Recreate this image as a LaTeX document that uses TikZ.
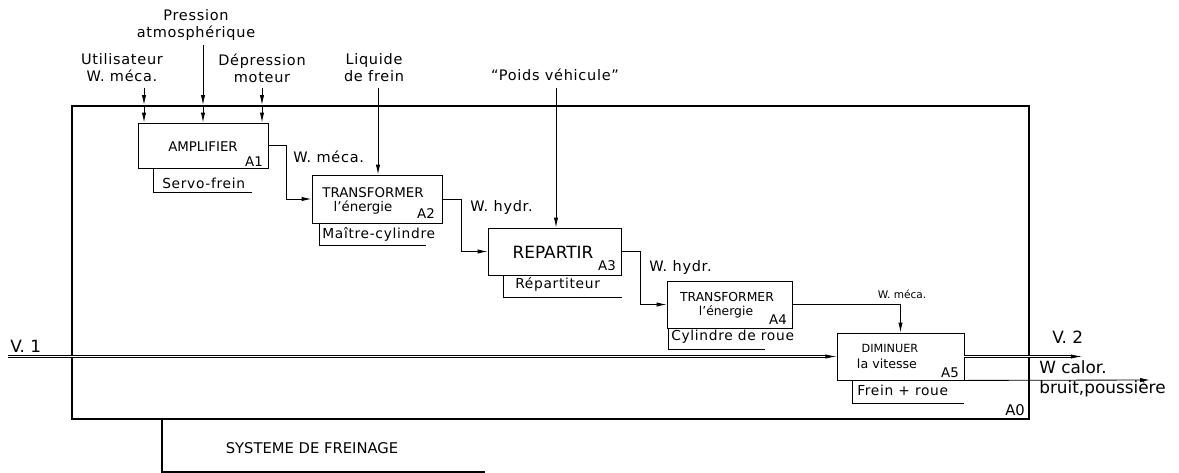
\documentclass[tikz,border=0pt]{standalone}
\usepackage{fontspec}
\setmainfont{DejaVu Sans}
\newfontfamily\lblfont[LetterSpace=5]{DejaVu Sans}
\usetikzlibrary{arrows.meta, positioning}

\begin{document}
\begin{tikzpicture}[x=0.025cm, y=-0.025cm,
          box/.style={
              draw,
              line width=0.6pt,
              inner sep=0pt
            },
          lbl/.style={
              font=\lblfont\fontsize{10.3}{12}\selectfont,
              align=center,
              inner sep=0pt
            },
          fnt/.style={
              font=\fontsize{9.5}{11}\selectfont,
              inner sep=0pt
            },
          mech/.style={
              font=\lblfont\fontsize{9.8}{11}\selectfont,
              anchor=west,
              inner sep=0pt
            },
          big/.style={
              font=\fontsize{12}{14}\selectfont,
              anchor=west,
              inner sep=0pt
            },
          arr/.style={-{Latex[length=7pt, width=3pt]}, line width=0.6pt},
          flow/.style={-{Latex[length=8pt, width=3pt]}, line width=0.5pt, double, double distance=1.4pt}
        ]
        \useasboundingbox (0,0) rectangle (1179,473);
        % context box
        \node[box, line width=1.3pt, minimum width=23.925cm, minimum height=7.825cm] (A0) at (550.5,262.5) {};
        \node[fnt, font=\fontsize{10.5}{12}\selectfont] (a0ref) at (1015,410) {A0};
        % activities
        \node[box, minimum width=3.25cm, minimum height=1.125cm] (A1) at (203,145.5) {};
        \node[box, minimum width=3.25cm, minimum height=1.2cm] (A2) at (377,199) {};
        \node[box, minimum width=3.325cm, minimum height=1.175cm] (A3) at (554.5,251.5) {};
        \node[box, minimum width=3.125cm, minimum height=1.175cm] (A4) at (729.5,304.5) {};
        \node[box, minimum width=3.175cm, minimum height=1.175cm] (A5) at (900.5,356.5) {};
        \node[fnt] (t1) at (203,147) {AMPLIFIER};
        \node[fnt] (r1) at (254,162) {A1};
        \node[fnt] (t2) at (373,193) {TRANSFORMER};
        \node[fnt] (t2b) at (363,208) {l’énergie};
        \node[fnt] (r2) at (426,214) {A2};
        \node[fnt, font=\fontsize{12}{14}\selectfont] (t3) at (553,252) {REPARTIR};
        \node[fnt] (r3) at (607,266) {A3};
        \node[fnt, font=\fontsize{8.8}{10}\selectfont] (t4) at (727,297) {TRANSFORMER};
        \node[fnt, font=\fontsize{8.8}{10}\selectfont] (t4b) at (726,312) {l’énergie};
        \node[fnt] (r4) at (778,320) {A4};
        \node[fnt, font=\fontsize{8}{10}\selectfont] (t5) at (890,348) {DIMINUER};
        \node[fnt, font=\fontsize{9}{10}\selectfont] (t5b) at (887,364) {la vitesse};
        \node[fnt] (r5) at (950,373) {A5};
        % mechanisms
        \draw[line width=0.6pt] (A1.south west) ++(16,0) |- ++(98,24);
        \draw[line width=0.6pt] (A2.south west) ++(8,0) |- ++(106,22);
        \draw[line width=0.6pt] (A3.south west) ++(16,0) |- ++(118,22);
        \draw[line width=0.6pt] (A4.south west) ++(2,0) |- ++(96,21);
        \draw[line width=0.6pt] (A5.south west) ++(16,0) |- ++(111,23);
        \node[mech] (m1) at (162,183) {Servo-frein};
        \node[mech] (m2) at (322,234) {Maître-cylindre};
        \node[mech] (m3) at (515,284) {Répartiteur};
        \node[mech] (m4) at (671,337) {Cylindre de roue};
        \node[mech] (m5) at (857,390) {Frein + roue};
        % controls
        \coordinate (c1) at (144,88);
        \coordinate (c2) at (203,45);
        \coordinate (c3) at (262,88);
        \coordinate (c4) at (378,88);
        \coordinate (c5) at (556,88);
        \node[lbl] (l1) at (122,68) {Utilisateur\\W. méca.};
        \node[lbl] (l2) at (196,25) {Pression\\atmosphérique};
        \node[lbl] (l3) at (262,68) {Dépression\\moteur};
        \node[lbl] (l4) at (374,68) {Liquide\\de frein};
        \node[lbl] (l5) at (555,75) {“Poids véhicule”};
        \foreach \c in {c1,c2,c3}{
          \draw[arr] (\c) -- (\c |- A0.north);
          \draw[arr] (\c |- A0.north) -- (\c |- A1.north);
        }
        \draw[arr] (c4) -- (c4 |- A2.north);
        \draw[arr] (c5) -- (c5 |- A3.north);
        % flows between activities
        \draw[arr] (A1.east) -- ++(18,0) |- (A2.west);
        \draw[arr] (A2.east) -- ++(19,0) |- (A3.west);
        \draw[arr] (A3.east) -- ++(19,0) |- (A4.west);
        \draw[arr] (A4.east) -| (A5.north);
        \node[lbl, anchor=west] (o1) at (293,157) {W. méca.};
        \node[lbl, anchor=west] (o2) at (470,208) {W. hydr.};
        \node[lbl, anchor=west] (o3) at (649,268) {W. hydr.};
        \node[fnt, font=\fontsize{7.5}{9}\selectfont] (o4) at (902,294) {W. méca.};
        % input and outputs
        \coordinate (v1) at (8,356.5);
        \coordinate (v2) at (1082,356.5);
        \coordinate (wc) at (1150,380);
        \draw[flow] (v1) -- (A5.west);
        \draw[flow] (A5.east) -- (v2);
        \draw[arr] (A5.south east) -- (wc);
        \node[big] (vi) at (10,346) {V. 1};
        \node[big] (vo) at (1052,337) {V. 2};
        \node[big] (wo) at (1039,367) {W calor.};
        \node[big] (bo) at (1039,389) {bruit,poussière};
        % title
        \draw[line width=0.8pt] (A0.south -| 162,0) |- (485,472);
        \node[lbl, font=\fontsize{10.5}{12}\selectfont] (title) at (312,448) {SYSTEME DE FREINAGE};
      \end{tikzpicture}
\end{document}
